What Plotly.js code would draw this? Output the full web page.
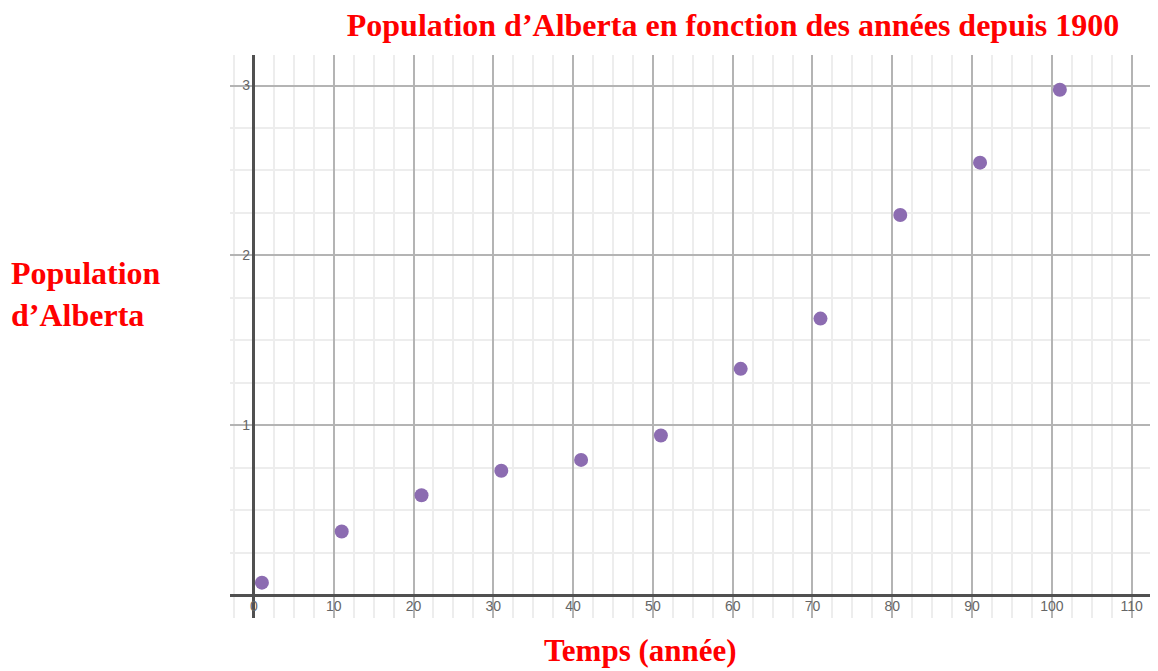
<!DOCTYPE html>
<html>
<head>
<meta charset="utf-8">
<script src="https://cdn.plot.ly/plotly-3.0.1.min.js"></script>
<style>html,body{margin:0;padding:0;background:#fff;}#chart{width:1158px;height:671px;}</style>
</head>
<body>
<div id="chart"></div>
<script>
// Years since 1900
const years = [1, 11, 21, 31, 41, 51, 61, 71, 81, 91, 101];
// Population of Alberta (millions)
const population = [0.073, 0.374, 0.588, 0.732, 0.796, 0.940, 1.332, 1.628, 2.238, 2.546, 2.975];
const xTickVals = [0, 10, 20, 30, 40, 50, 60, 70, 80, 90, 100, 110];
const yTickVals = [1, 2, 3];

const chartTitle = "Population d’Alberta en fonction des années depuis 1900";
const yTitle = "Population<br>d’Alberta";
const xTitle = "Temps (année)";

const red = "#ff0000";
const serif = "Liberation Serif, Times New Roman, serif";

const trace = {
  x: years,
  y: population,
  type: "scatter",
  mode: "markers",
  marker: {color: "#8c6cb1", size: 14, line: {width: 0}},
  hoverinfo: "x+y"
};

const layout = {
  width: 1158,
  height: 671,
  margin: {l: 230, r: 8, t: 55, b: 53},
  paper_bgcolor: "#ffffff",
  plot_bgcolor: "#ffffff",
  showlegend: false,
  title: {
    text: "<b>" + chartTitle + "</b>",
    font: {family: serif, size: 32, color: red},
    x: 733 / 1158, xref: "container", xanchor: "center",
    y: 1 - 25 / 671, yref: "container", yanchor: "middle"
  },
  xaxis: {
    range: [-3, 112.3],
    tickvals: xTickVals,
    ticks: "",
    showgrid: true,
    gridcolor: "#b4b4b4",
    gridwidth: 1.5,
    minor: {dtick: 2.5, tick0: 0, showgrid: true, gridcolor: "#ededed", gridwidth: 1.5},
    zeroline: true,
    zerolinecolor: "#505050",
    zerolinewidth: 3,
    showline: false,
    tickfont: {family: "Liberation Sans, Arial, sans-serif", size: 14, color: "#666666"},
    ticklabelstandoff: -22,
    fixedrange: true
  },
  yaxis: {
    range: [-0.135, 3.18],
    tickvals: yTickVals,
    ticks: "",
    showgrid: true,
    gridcolor: "#b4b4b4",
    gridwidth: 1.5,
    minor: {dtick: 0.25, tick0: 0, showgrid: true, gridcolor: "#ededed", gridwidth: 1.5},
    zeroline: true,
    zerolinecolor: "#505050",
    zerolinewidth: 3,
    showline: false,
    tickfont: {family: "Liberation Sans, Arial, sans-serif", size: 14, color: "#666666"},
    ticklabelstandoff: -21,
    fixedrange: true
  },
  annotations: [
    {
      text: "<b>" + yTitle + "</b>",
      xref: "paper", yref: "paper",
      x: (9 - 230) / 920, y: (618 - 294) / 563,
      xanchor: "left", yanchor: "middle", align: "left",
      showarrow: false,
      font: {family: serif, size: 32, color: red}
    },
    {
      text: "<b>" + xTitle + "</b>",
      xref: "paper", yref: "paper",
      x: (640 - 230) / 920, y: (618 - 650) / 563,
      xanchor: "center", yanchor: "middle",
      showarrow: false,
      font: {family: serif, size: 31, color: red}
    }
  ]
};

Plotly.newPlot("chart", [trace], layout, {displayModeBar: false});
</script>
</body>
</html>
